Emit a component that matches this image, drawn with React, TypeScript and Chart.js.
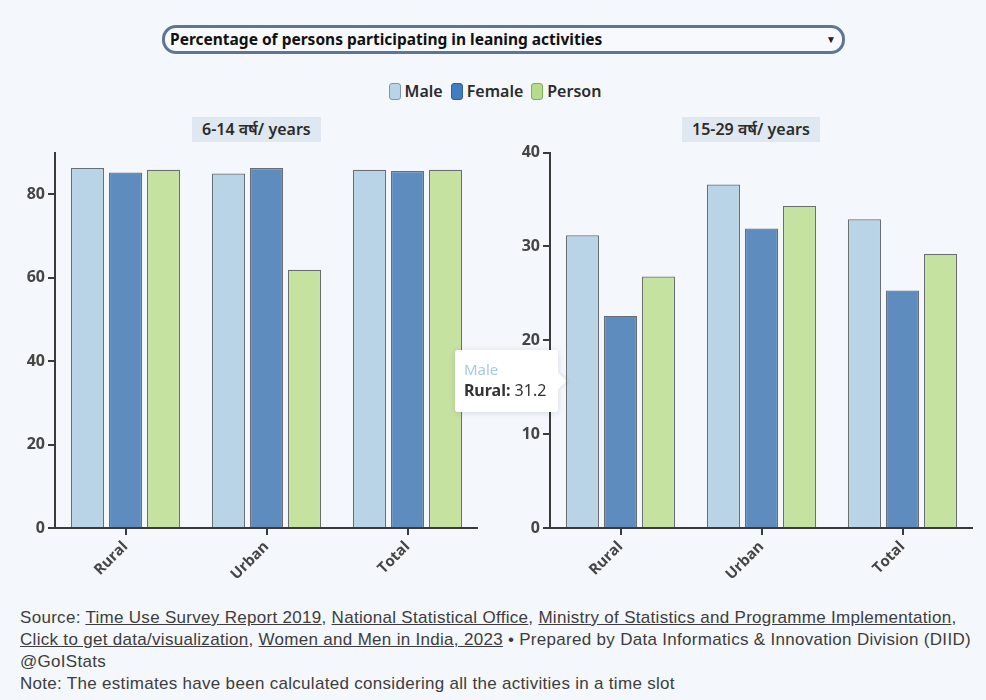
import React, { useEffect, useRef } from "react";
import { Chart, registerables, Tooltip } from "chart.js";

Chart.register(...registerables);

const categories = ["Rural", "Urban", "Total"];
const seriesNames = ["Male", "Female", "Person"];
const age614Male = [86.3, 85.0, 85.9];
const age614Female = [85.2, 86.3, 85.6];
const age614Person = [85.9, 61.9, 85.9];
const age1529Male = [31.2, 36.6, 32.9];
const age1529Female = [22.6, 31.9, 25.3];
const age1529Person = [26.8, 34.3, 29.2];
const leftAxis = { max: 90, step: 20 };
const rightAxis = { max: 40, step: 10 };

const fillColors = ["#b9d4e7", "#5e8cbf", "#c5e2a1"];
const legendColors = ["#b9d4e7", "#3f7ec2", "#b4dc8c"];
const legendBorders = ["#7c98ad", "#2f5f92", "#7fae55"];
const BG = "#f4f7fb";
const AXIS = "#3a3a3a";

(Tooltip.positioners as any).barLeft = function (elements: any[]) {
  if (!elements.length) return false;
  const el = elements[0].element;
  const p = el.getProps(["x", "y", "base", "width"], true);
  return { x: p.x - p.width / 2, y: (p.y + p.base) / 2, xAlign: "right", yAlign: "center" };
};

function buildConfig(m: number[], f: number[], p: number[], axis: { max: number; step: number }, external?: any): any {
  const data = [m, f, p];
  const tickFont = { family: "'Open Sans', sans-serif", size: 15, weight: "bold" as const };
  return {
    type: "bar",
    data: {
      labels: categories,
      datasets: seriesNames.map((name, i) => ({
        label: name,
        data: data[i],
        backgroundColor: fillColors[i],
        hoverBackgroundColor: fillColors[i],
        borderColor: "#6a6e72",
        hoverBorderColor: "#6a6e72",
        borderWidth: 1.2,
        categoryPercentage: 0.81,
        barPercentage: 0.87,
      })),
    },
    options: {
      animation: false,
      responsive: false,
      events: [],
      layout: { padding: { top: 12, left: 0, right: 0, bottom: 0 } },
      plugins: {
        legend: { display: false },
        title: { display: false },
        tooltip: external
          ? { enabled: false, external, position: "barLeft" }
          : { enabled: false },
      },
      scales: {
        x: {
          grid: { display: true, drawOnChartArea: false, drawTicks: true, tickLength: 7, color: AXIS, lineWidth: 2, offset: false },
          border: { display: true, color: AXIS, width: 2 },
          ticks: { minRotation: 45, maxRotation: 45, font: tickFont, color: "#454545", padding: 3 },
          afterFit: (s: any) => { s.height = 60; },
        },
        y: {
          min: 0,
          max: axis.max,
          grid: { display: true, drawOnChartArea: false, drawTicks: true, tickLength: 7, color: AXIS, lineWidth: 2 },
          border: { display: true, color: AXIS, width: 2 },
          ticks: { stepSize: axis.step, includeBounds: false, font: { ...tickFont, size: 16 }, color: "#454545", padding: 3 },
          afterFit: (s: any) => { s.width = 45; },
        },
      },
    },
  };
}

export default function App() {
  const leftRef = useRef<HTMLCanvasElement>(null);
  const rightRef = useRef<HTMLCanvasElement>(null);
  const tipRef = useRef<HTMLDivElement>(null);

  useEffect(() => {
    const external = (ctx: any) => {
      const { tooltip } = ctx;
      const el = tipRef.current;
      if (!el) return;
      if (!tooltip || tooltip.opacity === 0 || !tooltip.dataPoints || !tooltip.dataPoints.length) {
        el.style.opacity = "0";
        return;
      }
      const dp = tooltip.dataPoints[0];
      const t = el.querySelector(".tt-title") as HTMLElement;
      const lb = el.querySelector(".tt-label") as HTMLElement;
      const vl = el.querySelector(".tt-value") as HTMLElement;
      t.textContent = dp.dataset.label;
      lb.textContent = dp.label + ":";
      vl.textContent = " " + dp.formattedValue;
      el.style.opacity = "1";
      el.style.left = tooltip.caretX - 8 - el.offsetWidth + "px";
      el.style.top = tooltip.caretY - el.offsetHeight / 2 + "px";
    };
    const left = new Chart(leftRef.current!, buildConfig(age614Male, age614Female, age614Person, leftAxis));
    const right = new Chart(rightRef.current!, buildConfig(age1529Male, age1529Female, age1529Person, rightAxis, external));
    right.tooltip!.setActiveElements([{ datasetIndex: 0, index: 0 }], { x: 0, y: 0 });
    right.update();
    return () => {
      left.destroy();
      right.destroy();
    };
  }, []);

  const uiFont = "'Noto Sans', sans-serif";
  const footFont = "'Liberation Sans Narrow', 'Liberation Sans', sans-serif";
  const link: React.CSSProperties = { textDecoration: "underline", color: "#3d3d3d" };
  const titleBox: React.CSSProperties = {
    position: "absolute", top: 117, height: 25, lineHeight: "25px", padding: "0 10px",
    background: "#dfe7f0", fontFamily: uiFont, fontWeight: 600, fontSize: 16, color: "#2b2b2b", whiteSpace: "nowrap",
  };

  return (
    <div style={{ position: "absolute", left: 0, top: 0, width: 986, height: 700, background: BG, overflow: "hidden" }}>
      <div style={{
        position: "absolute", left: 162, top: 25, width: 683, height: 29, boxSizing: "border-box",
        border: "3px solid #5d7693", borderRadius: 14, background: "#f7f9fc",
        fontFamily: uiFont, fontWeight: 700, fontSize: 15.5, color: "#111", lineHeight: "23px", paddingLeft: 5, whiteSpace: "nowrap",
      }}>
        Percentage of persons participating in leaning activities
        <span style={{ position: "absolute", right: 6, top: 0, fontSize: 10, color: "#222" }}>▼</span>
      </div>

      <div style={{ position: "absolute", left: 0, width: 986, top: 80, display: "flex", justifyContent: "center", alignItems: "center", fontFamily: uiFont, fontWeight: 600, fontSize: 16, color: "#2b2b2b" }}>
        {seriesNames.map((n, i) => (
          <span key={n} style={{ display: "inline-flex", alignItems: "center", marginRight: 8, marginLeft: i === 0 ? 12 : 0 }}>
            <span style={{ display: "inline-block", width: 10, height: 15, borderRadius: 3, background: legendColors[i], border: `1.5px solid ${legendBorders[i]}`, marginRight: 4 }} />
            {n}
          </span>
        ))}
      </div>

      <div style={{ ...titleBox, left: 192 }}>6-14 वर्ष/ years</div>
      <div style={{ ...titleBox, left: 682 }}>15-29 वर्ष/ years</div>

      <div style={{ position: "absolute", left: 10, top: 140, width: 468, height: 448 }}>
        <canvas ref={leftRef} width={468} height={448} style={{ display: "block" }} />
      </div>
      <div style={{ position: "absolute", left: 505, top: 140, width: 468, height: 448 }}>
        <canvas ref={rightRef} width={468} height={448} style={{ display: "block" }} />
        <div ref={tipRef} style={{
          position: "absolute", left: 0, top: 0, opacity: 0, background: "#ffffff", borderRadius: 3,
          boxShadow: "0 1px 6px rgba(0,0,0,0.12)", padding: "9px 12px 10px 9px", fontFamily: uiFont, whiteSpace: "nowrap", pointerEvents: "none",
        }}>
          <div className="tt-title" style={{ fontSize: 15, lineHeight: "20px", color: "#a9c8e2" }}>Male</div>
          <div style={{ fontSize: 16, lineHeight: "23px", color: "#333" }}>
            <span className="tt-label" style={{ fontWeight: 700 }}>Rural:</span>
            <span className="tt-value">31.2</span>
          </div>
          <div style={{ position: "absolute", right: -6, top: "50%", marginTop: -6, width: 12, height: 12, background: "#fff", transform: "rotate(45deg)", boxShadow: "2px -2px 3px rgba(0,0,0,0.06)" }} />
        </div>
      </div>

      <div style={{ position: "absolute", left: 20, top: 607, fontFamily: footFont, fontSize: 17, letterSpacing: 0.3, lineHeight: "22px", color: "#3d3d3d", whiteSpace: "nowrap" }}>
        <div>Source: <span style={link}>Time Use Survey Report 2019</span>, <span style={link}>National Statistical Office</span>, <span style={link}>Ministry of Statistics and Programme Implementation</span>,</div>
        <div><span style={link}>Click to get data/visualization</span>, <span style={link}>Women and Men in India, 2023</span> • Prepared by Data Informatics &amp; Innovation Division (DIID)</div>
        <div>@GoIStats</div>
        <div>Note: The estimates have been calculated considering all the activities in a time slot</div>
      </div>
    </div>
  );
}
